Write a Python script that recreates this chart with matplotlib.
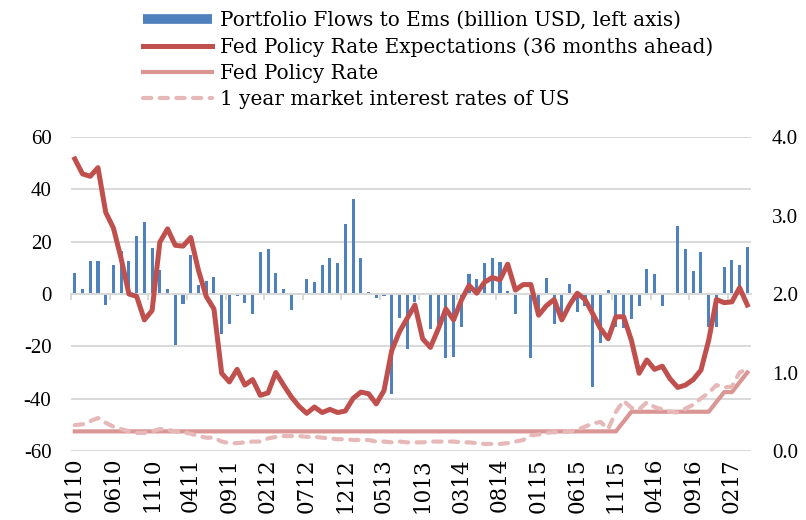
import numpy as np
import matplotlib.pyplot as plt
from matplotlib.lines import Line2D

plt.rcParams['font.family'] = ['Liberation Serif', 'DejaVu Serif']
plt.rcParams['axes.unicode_minus'] = False

# monthly categories Jan 2010 .. Apr 2017, labelled MMYY
months = ['%02d%02d' % (m, y) for y in range(10, 18) for m in range(1, 13)][:88]

# portfolio flows to EMs, billion USD (left axis)
flows = [8.2, 1.8, 12.6, 12.6, -4.2, 11.0, 16.5, 12.8, 22.3, 27.7,
         17.7, 9.3, 1.8, -19.5, -3.9, 15.0, 3.4, 5.0, 6.6, -15.1,
         -11.3, -0.8, -3.4, -7.5, 16.2, 17.3, 8.2, 1.9, -6.2, -0.3,
         5.7, 4.4, 11.2, 13.9, 11.7, 26.8, 36.4, 13.9, 0.8, -1.4,
         -0.9, -38.3, -9.2, -21.1, -3.0, -0.3, -13.5, -11.3, -24.3, -24.0,
         -12.8, 7.7, 5.9, 11.7, 13.8, 12.2, 1.3, -7.7, -0.3, -24.3,
         -8.0, 6.2, -11.5, -9.5, 3.9, -6.9, -4.6, -35.5, -18.9, 1.4,
         -12.6, -13.0, -9.6, -4.5, 9.7, 7.5, -4.6, 0.0, 26.1, 17.3,
         8.9, 16.0, -12.6, -12.6, 10.4, 13.1, 10.9, 17.9]

# fed policy rate expectations, 36 months ahead (right axis)
expect = [3.72, 3.53, 3.50, 3.61, 3.04, 2.84, 2.45, 2.00, 1.97, 1.67,
          1.79, 2.66, 2.83, 2.62, 2.61, 2.72, 2.30, 1.97, 1.81, 0.99,
          0.88, 1.04, 0.84, 0.91, 0.71, 0.74, 1.00, 0.84, 0.69, 0.57,
          0.48, 0.56, 0.49, 0.53, 0.49, 0.51, 0.67, 0.75, 0.73, 0.60,
          0.77, 1.28, 1.52, 1.69, 1.86, 1.43, 1.32, 1.55, 1.81, 1.67,
          1.92, 2.11, 2.01, 2.15, 2.21, 2.18, 2.38, 2.05, 2.12, 2.12,
          1.73, 1.85, 1.93, 1.67, 1.86, 2.01, 1.93, 1.75, 1.56, 1.43,
          1.71, 1.71, 1.41, 0.99, 1.16, 1.04, 1.08, 0.92, 0.81, 0.84,
          0.91, 1.03, 1.41, 1.93, 1.89, 1.90, 2.08, 1.86]

# fed policy rate (right axis)
fed_rate = [0.25] * 71 + [0.375] + [0.5] * 11 + [0.625, 0.75, 0.75, 0.875, 1.0]

# 1 year market interest rate of US (right axis)
one_year = [0.33, 0.34, 0.38, 0.42, 0.36, 0.31, 0.28, 0.25, 0.23, 0.23,
            0.25, 0.28, 0.27, 0.25, 0.24, 0.22, 0.19, 0.17, 0.17, 0.12,
            0.10, 0.10, 0.11, 0.12, 0.12, 0.16, 0.18, 0.19, 0.19, 0.19,
            0.18, 0.18, 0.17, 0.16, 0.15, 0.15, 0.14, 0.14, 0.14, 0.12,
            0.12, 0.11, 0.12, 0.11, 0.11, 0.11, 0.12, 0.12, 0.12, 0.12,
            0.11, 0.11, 0.10, 0.09, 0.09, 0.09, 0.10, 0.12, 0.14, 0.20,
            0.21, 0.23, 0.24, 0.24, 0.25, 0.27, 0.31, 0.35, 0.37, 0.28,
            0.50, 0.64, 0.55, 0.53, 0.62, 0.56, 0.53, 0.50, 0.49, 0.54,
            0.59, 0.67, 0.74, 0.84, 0.81, 0.82, 1.00, 1.04]

labels = ['Portfolio Flows to Ems (billion USD, left axis)',
          'Fed Policy Rate Expectations (36 months ahead)',
          'Fed Policy Rate',
          '1 year market interest rates of US']

BLUE = '#4F81BD'
RED = '#C0504D'
PINK = '#D99694'
LIGHT = '#E6B9B8'
GRID = '#D9D9D9'

fig = plt.figure(figsize=(8.06, 5.2), dpi=100)
ax = fig.add_axes([0.088, 0.1327, 0.844, 0.6038])
x = np.arange(len(months))

ax.bar(x, flows, width=0.4, color=BLUE, zorder=2)
ax.set_xlim(-0.5, len(months) - 0.5)
ax.set_ylim(-60, 60)
ax.set_yticks(np.arange(-60, 61, 20))
ax.grid(axis='y', color=GRID, lw=1.4, zorder=0)
ax.set_axisbelow(True)
for s in ['top', 'left', 'right']:
    ax.spines[s].set_visible(False)
ax.spines['bottom'].set_position(('data', 0))
ax.spines['bottom'].set_color(GRID)
ax.spines['bottom'].set_linewidth(1.4)
ax.set_xticks(x[::5] - 0.5)
ax.tick_params(axis='x', length=4, width=1.4, color=GRID, labelbottom=False)
ax.tick_params(axis='y', length=0, pad=14, labelsize=15)

# month labels sit at the bottom of the plot area
sec = ax.secondary_xaxis(0.0)
sec.set_xticks(x[::5], [months[i] for i in x[::5]], rotation=90,
               family='DejaVu Serif')
sec.tick_params(length=0, pad=5, labelsize=15.5)
sec.spines['bottom'].set_visible(False)

ax2 = ax.twinx()
ax2.plot(x, expect, color=RED, lw=3.6, solid_joinstyle='round')
ax2.plot(x, fed_rate, color=PINK, lw=3.0)
ax2.plot(x, one_year, color=LIGHT, lw=3.0, ls=(0, (2, 2)), dash_capstyle='round')
ax2.set_ylim(0, 4)
ax2.set_yticks(np.arange(0, 4.1, 1.0), ['%.1f' % v for v in np.arange(0, 4.1, 1.0)])
ax2.tick_params(axis='y', length=0, pad=15, labelsize=15)
for s in ax2.spines.values():
    s.set_visible(False)

handles = [Line2D([], [], color=BLUE, lw=7, solid_capstyle='butt'),
           Line2D([], [], color=RED, lw=3.6),
           Line2D([], [], color=PINK, lw=3.0),
           Line2D([], [], color=LIGHT, lw=3.0, ls=(0, (2, 2)), dash_capstyle='round')]
fig.legend(handles, labels, loc='upper left', bbox_to_anchor=(143 / 806, 1 - 11 / 520),
           frameon=False, prop={'family': 'DejaVu Serif', 'size': 14.4},
           handlelength=3.45, handletextpad=0.4, labelspacing=0.36,
           borderaxespad=0, borderpad=0)

fig.savefig('out.png', dpi=100)
